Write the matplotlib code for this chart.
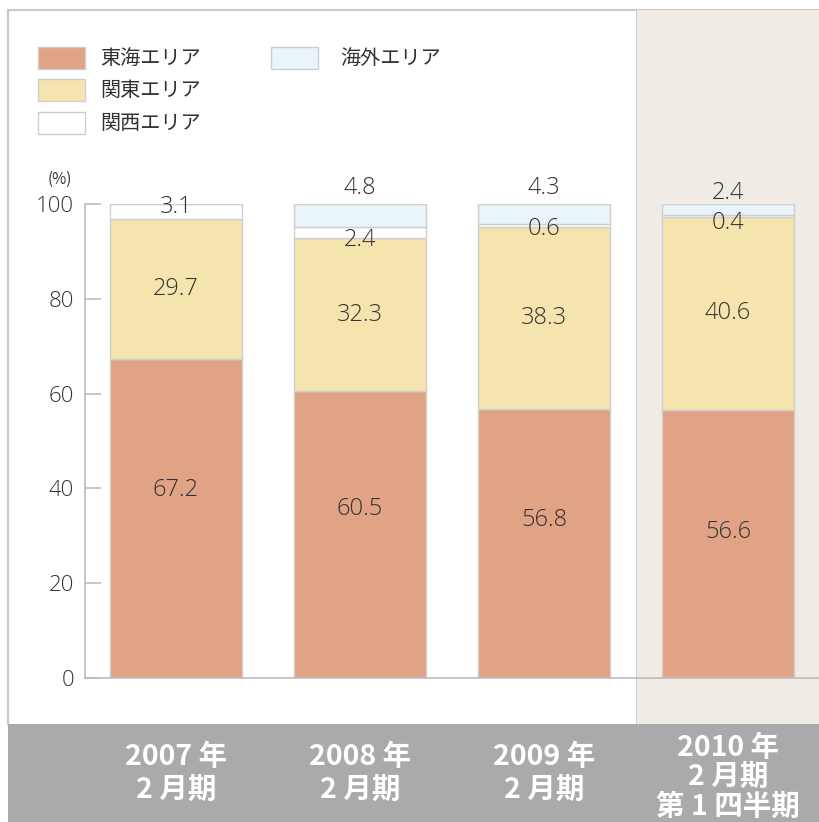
import matplotlib
matplotlib.use("Agg")
import matplotlib.pyplot as plt
from matplotlib.patches import Rectangle
from matplotlib.lines import Line2D
import numpy as np

plt.rcParams['font.family'] = ['Noto Sans CJK JP', 'DejaVu Sans']

# --- Data (share of sales by area, %) ---
periods = ["2007 年\n2 月期", "2008 年\n2 月期", "2009 年\n2 月期", "2010 年\n2 月期\n第 1 四半期"]
area_names = ["東海エリア", "関東エリア", "関西エリア", "海外エリア"]
tokai = [67.2, 60.5, 56.8, 56.6]
kanto = [29.7, 32.3, 38.3, 40.6]
kansai = [3.1, 2.4, 0.6, 0.4]
kaigai = [0.0, 4.8, 4.3, 2.4]
y_ticks = [0, 20, 40, 60, 80, 100]

# --- Styles ---
colors = ["#e1a385", "#f5e4ae", "#ffffff", "#eaf4fb"]
edge = "#cfcfcf"
text_col = "#333333"
band_col = "#a9aaa9"
beige = "#f0ebe5"
num_font = ['Open Sans', 'DejaVu Sans']

W, H = 820, 822
fig = plt.figure(figsize=(W / 100, H / 100), dpi=100)


def fx(x):
    return x / W


def fy(y):
    return 1 - y / H


# background pieces (frame, highlighted quarter panel, bottom band)
fig.patches.append(Rectangle((fx(637), fy(724)), fx(820) - fx(637), fy(10) - fy(724),
                             transform=fig.transFigure, facecolor=beige, edgecolor="none", zorder=0))
fig.patches.append(Rectangle((fx(8), 0), 1 - fx(8), fy(724),
                             transform=fig.transFigure, facecolor=band_col, edgecolor="none", zorder=0))
fig.lines.append(Line2D([fx(8), 1], [fy(10), fy(10)], transform=fig.transFigure, color="#c8c8c8", lw=1.5, zorder=0))
fig.lines.append(Line2D([fx(8), fx(8)], [fy(10), fy(724)], transform=fig.transFigure, color="#c8c8c8", lw=1.5, zorder=0))
fig.lines.append(Line2D([fx(637), fx(637)], [fy(10), fy(724)], transform=fig.transFigure, color="#c8c8c8", lw=1.2, zorder=0))

# main axes
ax = fig.add_axes([fx(85), fy(678), fx(820) - fx(85), fy(204) - fy(678)])
ax.set_zorder(5)
ax.patch.set_alpha(0)
x = np.arange(len(periods))
ax.set_xlim(-91 / 184, 644 / 184)
ax.set_ylim(0, 100)
bw = 132 / 184

series = [tokai, kanto, kansai, kaigai]
bottom = np.zeros(len(periods))
bottoms = []
for vals, c in zip(series, colors):
    bottoms.append(bottom.copy())
    ax.bar(x, vals, bw, bottom=bottom, color=c, edgecolor=edge, linewidth=1, zorder=2)
    bottom = bottom + np.array(vals)

fs_num = 17
tokai_shift = [6, 5.5, 5, 2.5]
kaigai_shift = [0, 0, 0, -0.9]
for i in range(len(periods)):
    ax.text(x[i], tokai[i] / 2 + tokai_shift[i], f"{tokai[i]:.1f}", ha="center", va="center",
            fontsize=fs_num, color=text_col, zorder=3, family=num_font, fontweight="light")
    ax.text(x[i], bottoms[1][i] + kanto[i] / 2, f"{kanto[i]:.1f}", ha="center", va="center",
            fontsize=fs_num, color=text_col, zorder=3, family=num_font, fontweight="light")
    if kaigai[i] > 0:
        ky = bottoms[2][i] - 0.3 + kaigai_shift[i]
        ax.text(x[i], 103.3 + kaigai_shift[i], f"{kaigai[i]:.1f}", ha="center", va="center", family=num_font,
                fontweight="light", fontsize=fs_num, color=text_col, zorder=3, clip_on=False)
    else:
        ky = 100 - 0.6
    ax.text(x[i], ky, f"{kansai[i]:.1f}", ha="center", va="center", family=num_font,
            fontweight="light", fontsize=fs_num, color=text_col, zorder=3, clip_on=False)

for s in ["top", "right"]:
    ax.spines[s].set_visible(False)
for s in ["left", "bottom"]:
    ax.spines[s].set_color("#bdbdbd")
    ax.spines[s].set_linewidth(1.2)
ax.set_yticks(y_ticks)
ax.set_yticklabels([str(v) for v in y_ticks], fontsize=16, color=text_col, family=num_font,
                   fontweight="light")
ax.tick_params(axis="y", direction="in", length=11.5, width=1.2, color="#bdbdbd", pad=8)
ax.set_xticks([])
ax.text(-0.018, 1.035, "(%)", transform=ax.transAxes, ha="right", va="bottom", fontsize=11, color=text_col)

# period labels in the grey band
label_spacing = [1.25, 1.25, 1.25, 1.07]
label_y = [-20.1, -20.1, -20.1, -20.9]
for i, lab in enumerate(periods):
    ax.text(x[i], label_y[i], lab, ha="center", va="center", fontsize=20.5, fontweight="bold", color="white",
            linespacing=label_spacing[i], clip_on=False)

# legend drawn by hand
leg_pos = [(38, 47), (38, 79), (38, 112), (271, 47)]
for (lx, ly), name, c in zip(leg_pos, area_names, colors):
    fig.patches.append(Rectangle((fx(lx), fy(ly + 22)), fx(47), fy(0) - fy(22), transform=fig.transFigure,
                                 facecolor=c, edgecolor=edge, lw=1))
    tx = lx + 62 if lx < 100 else lx + 69
    fig.text(fx(tx), fy(ly + 11), name, ha="left", va="center", fontsize=14.5, color=text_col)

fig.savefig("out.png", dpi=100)
